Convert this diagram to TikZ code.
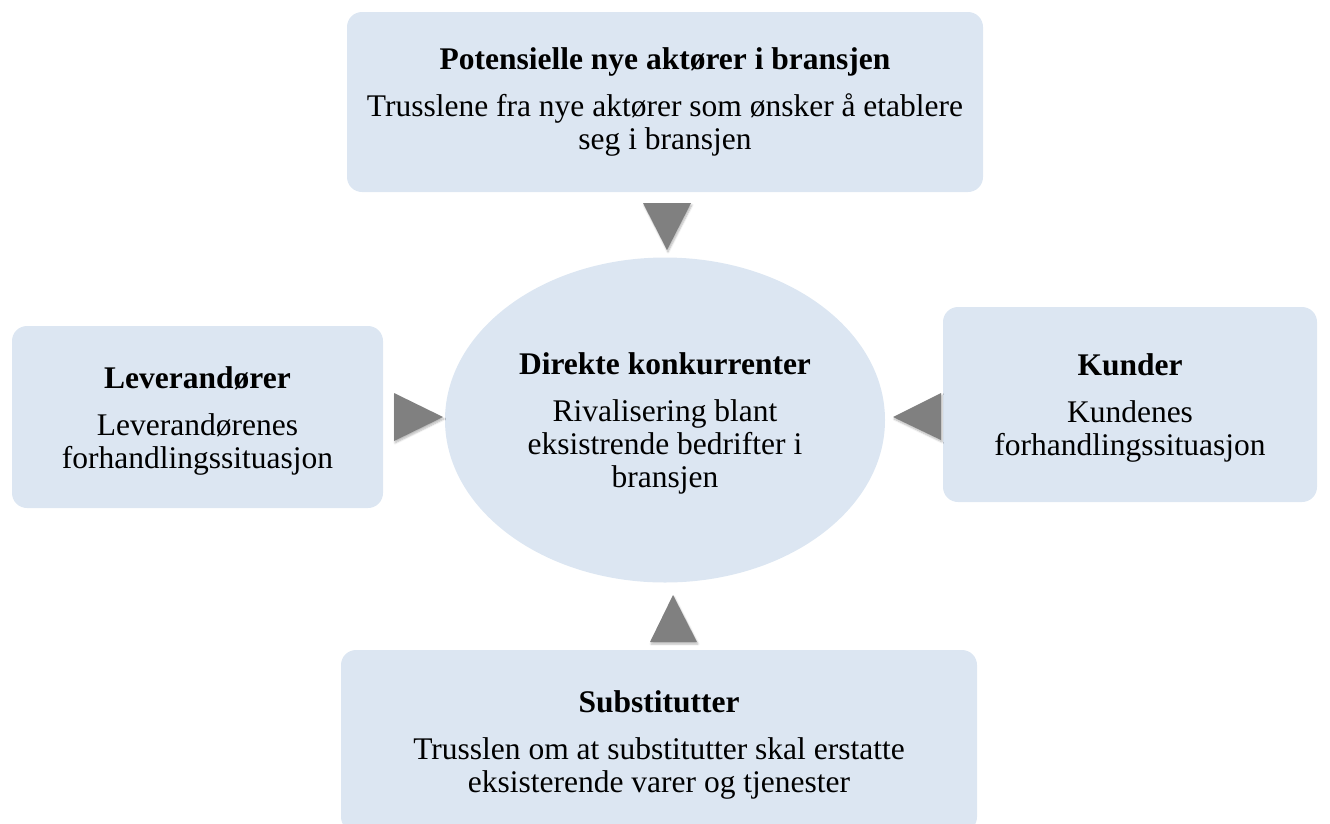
\documentclass[tikz,border=0pt]{standalone}
\usepackage{fontspec}
\setmainfont{Liberation Serif}
\usetikzlibrary{shadows.blur,shapes.geometric}
\definecolor{boxfill}{HTML}{DCE6F2}
\definecolor{arrowgray}{HTML}{808080}
% extra room above the first line, so the text sits a little lower in its shape
\newcommand\toproom{\rule{0pt}{29.5pt}}
\tikzset{
  force/.style={draw=none, fill=boxfill, rounded corners=15pt, align=center,
    inner sep=0pt, font=\fontsize{31.5}{33}\selectfont},
  rival/.style={draw=none, fill=boxfill, ellipse, align=center, inner sep=0pt,
    minimum width=440pt, minimum height=325pt, font=\fontsize{31.5}{33}\selectfont},
  pointer/.style={fill=arrowgray, draw=none,
    blur shadow={shadow xshift=1pt, shadow yshift=-2pt, shadow blur steps=6, shadow opacity=28}}
}
\begin{document}
\begin{tikzpicture}[x=1pt, y=-1pt]
  \useasboundingbox (0,0) rectangle (1330,823);

  % the five forces
  \node[force, minimum width=636pt, minimum height=180pt] (entrants) at (665,102)
    {\textbf{Potensielle nye aktører i bransjen}\\[14pt]
     Trusslene fra nye aktører som ønsker å etablere\\ seg i bransjen};
  \node[force, minimum width=371pt, minimum height=182pt] (suppliers) at (197.5,417)
    {\toproom\textbf{Leverandører}\\[14pt] Leverandørenes\\ forhandlingssituasjon};
  \node[force, minimum width=374pt, minimum height=195pt] (buyers) at (1130,404.5)
    {\toproom\textbf{Kunder}\\[14pt] Kundenes\\ forhandlingssituasjon};
  \node[force, minimum width=636pt, minimum height=182pt] (substitutes) at (659,741)
    {\toproom\textbf{Substitutter}\\[14pt] Trusslen om at substitutter skal erstatte\\
     eksisterende varer og tjenester};
  \node[rival] (rivalry) at (665,420)
    {\toproom\textbf{Direkte konkurrenter}\\[14pt] Rivalisering blant\\
     eksistrende bedrifter i\\ bransjen};

  % pointers into the centre
  \fill[pointer] (643,203) -- (691,203) -- (667,250) -- cycle;
  \fill[pointer] (394,393) -- (394,441) -- (443,417) -- cycle;
  \fill[pointer] (941,393) -- (941,440) -- (893,417) -- cycle;
  \fill[pointer] (650,642) -- (697,642) -- (673,595) -- cycle;
\end{tikzpicture}
\end{document}
